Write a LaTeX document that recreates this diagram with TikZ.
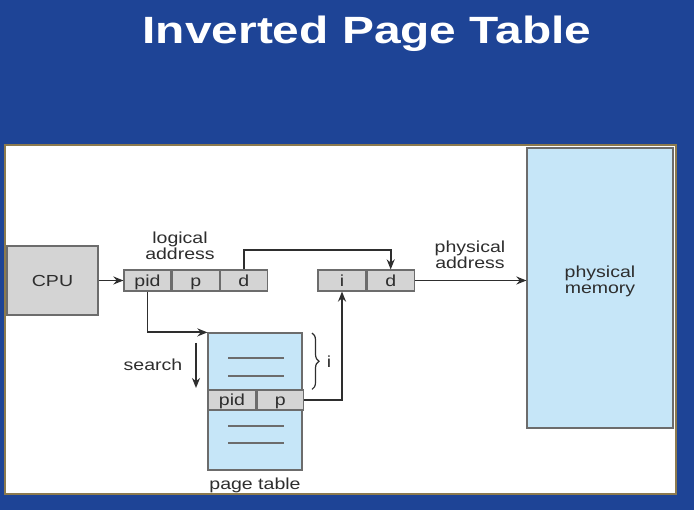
\documentclass[tikz,border=0pt]{standalone}
\usepackage{fontspec}
\setmainfont{Liberation Sans}[FakeStretch=1.22]
\newfontfamily\titlefont{Liberation Sans Bold}[FakeStretch=1.26]
\usepackage{xcolor}
\usepackage{tikz}
\usetikzlibrary{arrows, arrows.meta, positioning, decorations.pathreplacing}
\definecolor{slideblue}{HTML}{1E4496}
\definecolor{panelrim}{HTML}{8C7A4E}
\definecolor{cellgray}{HTML}{D4D4D4}
\definecolor{tableblue}{HTML}{C6E6F8}
\definecolor{rimgray}{HTML}{6C6C6C}
\definecolor{inkgray}{HTML}{2E2E2E}
\tikzstyle{cpubox} = [rectangle, draw=rimgray, fill=cellgray, line width=1.2pt, minimum width=91pt, minimum height=69pt, font=\fontsize{16}{18}\selectfont, text=inkgray]
\tikzstyle{cell} = [rectangle, draw=rimgray, fill=cellgray, line width=1.2pt, minimum width=47pt, minimum height=21pt, inner sep=0pt, text height=14pt, text depth=2pt, font=\fontsize{16}{18}\selectfont, text=inkgray]
\tikzstyle{memory} = [rectangle, draw=rimgray, fill=tableblue, line width=1.2pt, minimum width=146pt, minimum height=280pt]
\tikzstyle{textlabel} = [align=center, font=\fontsize{16}{16}\selectfont, text=inkgray, inner sep=0pt]
\tikzstyle{arrow} = [line width=1.8pt, draw=inkgray, -{Stealth[length=10pt, width=8pt]}]

\begin{document}
\begin{tikzpicture}[x=1pt, y=-1pt]
    % Slide background and white panel
    \fill[slideblue] (0,0) rectangle (694,510);
    \useasboundingbox (0,0) rectangle (694,510);
    \draw[panelrim, line width=2pt, fill=white] (5,145) rectangle (676,494);

    % Title
    \node[font=\titlefont\fontsize{38}{40}\selectfont, text=white] (title) at (367,34) {Inverted Page Table};

    % CPU and logical address
    \node[cpubox] (cpu) at (52.5,280.5) {CPU};
    \node[cell] (lpid) at (147.5,280.5) {pid};
    \node[cell, right=0pt of lpid] (lp) {p};
    \node[cell, right=0pt of lp] (ld) {d};
    \node[textlabel] (logical) at (180,246) {logical\\address};

    % Physical address and memory
    \node[cell, minimum width=48pt] (pi) at (342,280.5) {i};
    \node[cell, right=0pt of pi] (pd) {d};
    \node[textlabel] (physaddr) at (470,255) {physical\\address};
    \node[memory] (mem) at (600,288) {};
    \node[textlabel] (memlabel) at (600,281) {physical\\memory};

    % Page table
    \node[memory, minimum width=94pt, minimum height=137pt] (pt) at (255,401.5) {};
    \node[cell, minimum width=48pt, minimum height=20pt] (ppid) at (232,400) {pid};
    \node[cell, minimum width=46pt, minimum height=20pt, right=0pt of ppid] (pp) {p};
    \foreach \y in {358,376,426,443}
        \draw[rimgray, line width=1.2pt] (228,\y) -- (284,\y);
    \node[textlabel] (ptlabel) at (255,485) {page table};

    % Search direction
    \coordinate (stop) at (196,343);
    \coordinate (sbot) at (196,388);
    \draw[arrow] (stop) -- (sbot);
    \node[textlabel] (search) at (153,365) {search};

    % Brace for index i
    \draw[inkgray, line width=1.2pt, decorate, decoration={brace, amplitude=7pt}] (312,333) -- (ppid.north -| 312,0);
    \node[textlabel] (ilabel) at (329,362) {i};

    % Arrows
    \draw[arrow] (cpu) -- (lpid);
    \draw[arrow] (ld.north) |- ++(0,-19) -| (pd.north);
    \draw[arrow] (pd.east) -- (pd.east -| mem.west);
    \draw[arrow] (lpid.south) |- (pt.north west);
    \draw[arrow] (pp.east) -| (pi.south);
\end{tikzpicture}
\end{document}
